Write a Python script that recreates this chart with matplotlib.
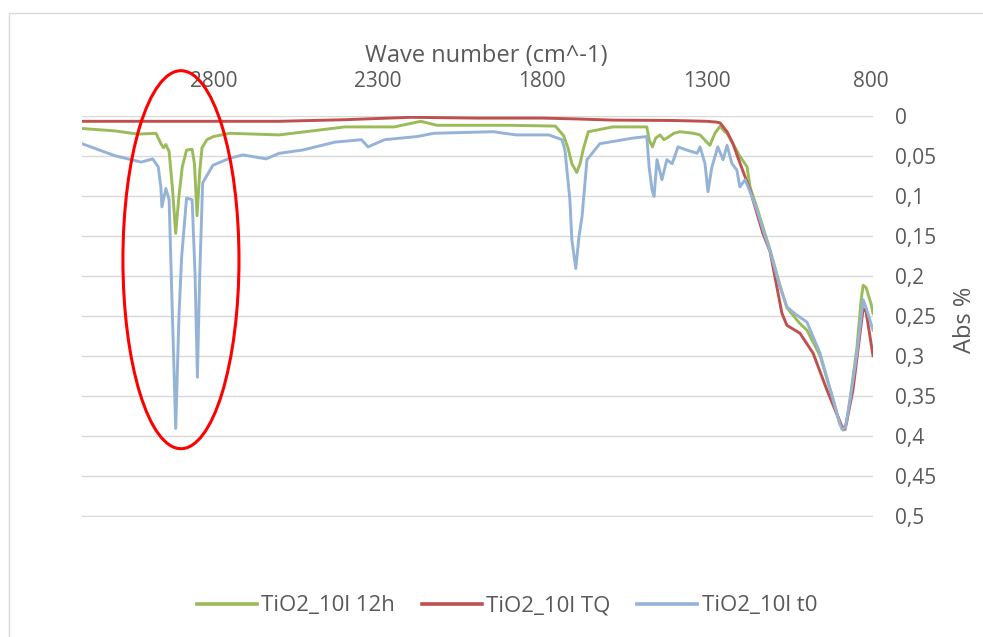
import numpy as np
import matplotlib
matplotlib.use('Agg')
from matplotlib import pyplot as plt
from matplotlib.patches import Ellipse, Rectangle

plt.rcParams['font.family'] = ['Open Sans', 'DejaVu Sans']

# TiO2_10l 12h (green)
wn_12h = [3200, 3100, 3030, 2975, 2960, 2952, 2945, 2935, 2925, 2915, 2905, 2895,
          2882, 2865, 2858, 2850, 2842, 2835, 2820, 2800, 2750, 2600, 2520, 2400,
          2250, 2170, 2120, 1900, 1760, 1735, 1722, 1710, 1695, 1685, 1676, 1660,
          1585, 1482, 1475, 1465, 1455, 1442, 1430, 1421, 1400, 1381, 1340, 1320,
          1300, 1290, 1275, 1259, 1245, 1238, 1220, 1200, 1177, 1168, 1147, 1107,
          1077, 1056, 1016, 995, 955, 915, 895, 885, 875, 864, 843, 830, 824, 815,
          800, 794]
abs_12h = [0.016, 0.019, 0.023, 0.022, 0.035, 0.040, 0.036, 0.045, 0.090, 0.147, 0.100, 0.064,
           0.043, 0.042, 0.060, 0.125, 0.070, 0.040, 0.030, 0.026, 0.022, 0.024, 0.020, 0.014,
           0.014, 0.007, 0.012, 0.012, 0.013, 0.025, 0.040, 0.060, 0.071, 0.060, 0.043, 0.020,
           0.014, 0.014, 0.030, 0.039, 0.028, 0.024, 0.030, 0.028, 0.022, 0.020, 0.022, 0.024,
           0.033, 0.037, 0.022, 0.013, 0.020, 0.022, 0.035, 0.050, 0.064, 0.089, 0.115, 0.168,
           0.212, 0.240, 0.260, 0.268, 0.300, 0.355, 0.385, 0.393, 0.385, 0.355, 0.290, 0.230, 0.212, 0.215,
           0.235, 0.247]

# TiO2_10l TQ (red)
wn_tq = [3200, 2900, 2600, 2400, 2200, 2000, 1800, 1700, 1585, 1400, 1300, 1270,
         1259, 1238, 1220, 1198, 1168, 1129, 1107, 1071, 1056, 1016, 976, 934,
         888, 879, 855, 824, 815, 794]
abs_tq = [0.007, 0.007, 0.007, 0.005, 0.002, 0.003, 0.003, 0.004, 0.0055, 0.006, 0.007, 0.008,
          0.009, 0.020, 0.035, 0.060, 0.093, 0.147, 0.170, 0.247, 0.262, 0.272, 0.297, 0.343,
          0.389, 0.392, 0.343, 0.241, 0.245, 0.300]

# TiO2_10l t0 (blue)
wn_t0 = [3200, 3100, 3040, 3020, 2985, 2968, 2960, 2957, 2945, 2935, 2925, 2915,
         2905, 2897, 2882, 2865, 2856, 2849, 2842, 2833, 2802, 2750, 2710, 2640,
         2600, 2530, 2430, 2350, 2330, 2280, 2180, 2130, 1950, 1880, 1780, 1740,
         1731, 1716, 1710, 1698, 1688, 1679, 1664, 1625, 1524, 1482, 1475, 1466,
         1460, 1451, 1436, 1421, 1405, 1387, 1360, 1329, 1320, 1305, 1296, 1284,
         1266, 1250, 1238, 1223, 1208, 1199, 1183, 1168, 1147, 1107, 1077, 1056,
         1030, 995, 955, 915, 895, 888, 878, 864, 843, 824, 815, 794]
abs_t0 = [0.035, 0.050, 0.056, 0.058, 0.054, 0.064, 0.090, 0.114, 0.091, 0.105, 0.250, 0.391,
          0.250, 0.177, 0.103, 0.105, 0.200, 0.327, 0.200, 0.084, 0.062, 0.053, 0.049, 0.054,
          0.047, 0.043, 0.033, 0.030, 0.039, 0.030, 0.026, 0.022, 0.020, 0.024, 0.024, 0.030,
          0.043, 0.105, 0.155, 0.191, 0.150, 0.126, 0.055, 0.035, 0.028, 0.026, 0.064, 0.093,
          0.101, 0.055, 0.080, 0.055, 0.060, 0.039, 0.043, 0.047, 0.039, 0.060, 0.095, 0.064,
          0.039, 0.055, 0.037, 0.060, 0.068, 0.089, 0.080, 0.095, 0.118, 0.170, 0.214, 0.239,
          0.248, 0.258, 0.297, 0.356, 0.385, 0.392, 0.390, 0.356, 0.297, 0.230, 0.240, 0.268]

x_ticks = [2800, 2300, 1800, 1300, 800]
y_ticks = [0, 0.05, 0.1, 0.15, 0.2, 0.25, 0.3, 0.35, 0.4, 0.45, 0.5]

txt = '#595959'
fig = plt.figure(figsize=(9.83, 6.37), dpi=100)
# y axis runs a hair past 0.5 so the last gridline is drawn
ax = fig.add_axes([82/983, 1-516.7/637, (873-82)/983, 401/637])

ax.plot(wn_12h, abs_12h, color='#9bbb59', lw=2.1, label='TiO2_10l 12h')
ax.plot(wn_tq, abs_tq, color='#c0504d', lw=2.1, label='TiO2_10l TQ')
ax.plot(wn_t0, abs_t0, color='#95b3d7', lw=2.1, label='TiO2_10l t0')

ax.set_xlim(3200, 794)
ax.set_ylim(0.50125, 0)
ax.xaxis.tick_top()
ax.set_xticks(x_ticks)
ax.yaxis.tick_right()
ax.set_yticks(y_ticks)
ax.set_yticklabels([('%g' % v).replace('.', ',') for v in y_ticks])
ax.tick_params(axis='x', length=0, pad=17, labelsize=15, colors=txt)
ax.tick_params(axis='y', length=0, pad=16, labelsize=15, colors=txt)
ax.grid(axis='y', color='#d9d9d9', lw=1)
ax.set_axisbelow(True)
for s in ax.spines.values():
    s.set_visible(False)

# red circle around the C-H peaks
ax.add_patch(Ellipse((2899, 0.18), 353, 0.4725, fill=False, edgecolor='#ff0000',
                     lw=2.2, clip_on=False, zorder=5))

fig.text(486/983, 1-56/637, 'Wave number (cm^-1)', ha='center', va='center', fontsize=17, color=txt)
fig.text(965/983, 1-320/637, 'Abs %', ha='center', va='center', rotation=90, fontsize=17, color=txt)

leg = fig.legend(loc='center', bbox_to_anchor=(507/983, 1-606/637), ncol=3, frameon=False,
                 fontsize=16, handlelength=2.7, handletextpad=0.2, columnspacing=1.2,
                 labelcolor=txt)
for h in leg.get_lines():
    h.set_linewidth(2.6)

fig.patches.append(Rectangle((9/983, -0.05), 1.1, 1-13/637+0.05, transform=fig.transFigure,
                             fill=False, edgecolor='#d9d9d9', lw=1))

fig.savefig('out.png', dpi=100)
